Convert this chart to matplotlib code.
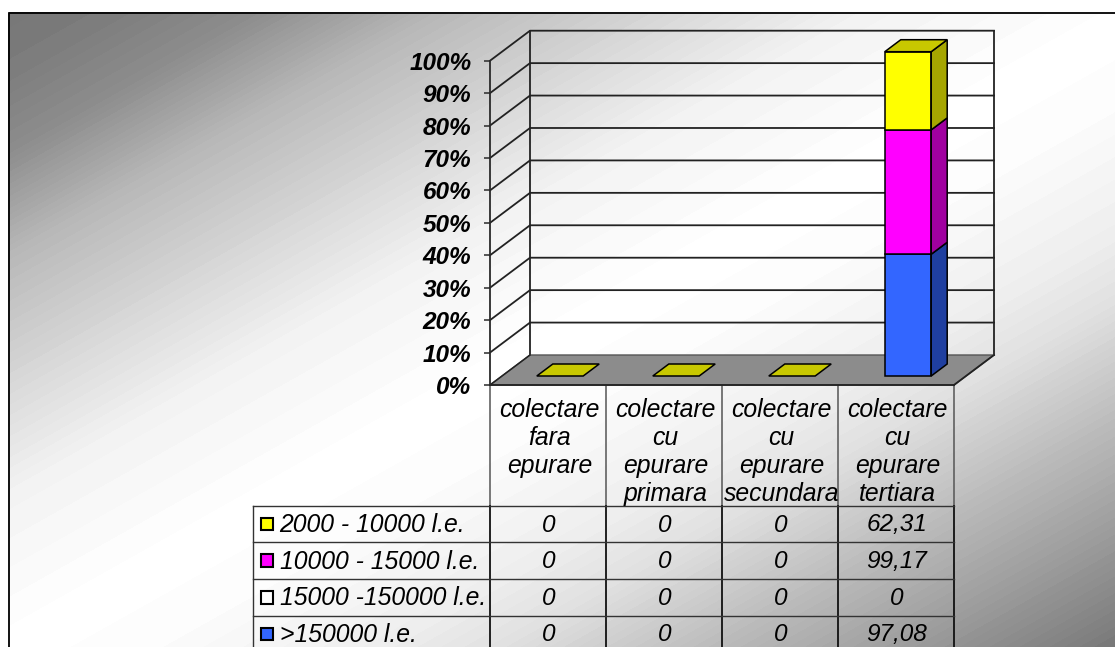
import numpy as np
import matplotlib
matplotlib.use("Agg")
import matplotlib.pyplot as plt
from matplotlib.patches import Polygon, Rectangle

plt.rcParams['font.family'] = ['Liberation Sans', 'DejaVu Sans']

categories = ["colectare\nfara\nepurare", "colectare\ncu\nepurare\nprimara",
              "colectare\ncu\nepurare\nsecundara", "colectare\ncu\nepurare\ntertiara"]
series_names = ["2000 - 10000 l.e.", "10000 - 15000 l.e.", "15000 -150000 l.e.", ">150000 l.e."]
series_values = {
    "2000 - 10000 l.e.": [0, 0, 0, 62.31],
    "10000 - 15000 l.e.": [0, 0, 0, 99.17],
    "15000 -150000 l.e.": [0, 0, 0, 0],
    ">150000 l.e.": [0, 0, 0, 97.08],
}
series_front = ["#ffff00", "#ff00ff", "#ffffff", "#3366ff"]
series_side = ["#a6a600", "#a000a0", "#a6a6a6", "#1f3fa0"]
series_top = ["#c8c800", "#c800c8", "#c8c8c8", "#2850c8"]
y_ticks = list(range(0, 101, 10))
grad_pos = [0, 0.05, 0.11, 0.193, 0.3, 0.384, 0.5, 0.565, 0.672, 0.724, 0.814, 0.893, 1]
grad_val = [0.47, 0.49, 0.55, 0.72, 0.85, 0.95, 1.0, 0.99, 0.93, 0.88, 0.74, 0.63, 0.47]

W, H = 1115, 647
fig = plt.figure(figsize=(W / 100, H / 100), dpi=100, facecolor="white")

# Pixel layer: background and table
bg = fig.add_axes([0, 0, 1, 1])
bg.set_xlim(0, W)
bg.set_ylim(H, 0)
bg.axis("off")

yy, xx = np.mgrid[0:H, 0:W]
nx, ny = 590.0, 1050.0
t = ((xx - 8) * nx + (yy - 12) * ny) / ((W - 8) * nx + (H - 12) * ny)
shade = np.interp(t, grad_pos, grad_val)
shade = np.round(shade * 100) / 100
bg.imshow(shade, cmap="gray", vmin=0, vmax=1, extent=(0, W, H, 0), aspect="auto",
          interpolation="bilinear", zorder=0)
bg.set_xlim(0, W)
bg.set_ylim(H, 0)
bg.add_patch(Rectangle((0, 0), W, 12, fc="white", ec="none", zorder=1))
bg.add_patch(Rectangle((0, 0), 8, H, fc="white", ec="none", zorder=1))
bg.plot([8.5, 8.5, W], [H, 12.5, 12.5], color="black", lw=1.3, zorder=2)

# Chart layer: front plane of the 3-D box
AX_L, AX_R, AX_B, AX_T = 490, 954, 385, 60.7
ax = fig.add_axes([AX_L / W, 1 - AX_B / H, (AX_R - AX_L) / W, (AX_B - AX_T) / H])
ax.patch.set_alpha(0)
ax.set_xlim(0, 4)
ax.set_ylim(0, 100)
for s in ["top", "right", "bottom"]:
    ax.spines[s].set_visible(False)
ax.spines["left"].set_color("#2a2a2a")
ax.spines["left"].set_linewidth(1.3)

DEPTH_X = 40 / 116
DEPTH_Y = 30 / ((AX_B - AX_T) / 100)


def proj(x, y, d):
    return x + d * DEPTH_X, y + d * DEPTH_Y


ax.add_patch(Polygon([proj(0, 0, 0), proj(4, 0, 0), proj(4, 0, 1), proj(0, 0, 1)],
                     fc="#8c8c8c", ec="#555555", lw=1, clip_on=False, zorder=1))
for v in y_ticks:
    a, b, c = proj(0, v, 0), proj(0, v, 1), proj(4, v, 1)
    if v > 0:
        ax.plot([a[0], b[0], c[0]], [a[1], b[1], c[1]], color="#222222", lw=1.3,
                clip_on=False, zorder=0.5)
    else:
        ax.plot([a[0], proj(4, 0, 0)[0]], [a[1], a[1]], color="#222222", lw=1.3, clip_on=False, zorder=2)
for x in (0, 4):
    a, b = proj(x, 0, 1), proj(x, 100, 1)
    ax.plot([a[0], b[0]], [a[1], b[1]], color="#222222", lw=1.3, clip_on=False, zorder=0.6)
a, b = proj(4, 0, 0), proj(4, 0, 1)
ax.plot([a[0], b[0]], [a[1], b[1]], color="#222222", lw=1.3, clip_on=False, zorder=2)
a, b = proj(0, 0, 0), proj(0, 0, 1)
ax.plot([a[0], b[0]], [a[1], b[1]], color="#222222", lw=1.1, clip_on=False, zorder=2)

# Stacked 100 % bars
GAP_WIDTH = 1 / 2.5
D0, D1 = 0.3, 0.7
arr = np.array([series_values[n] for n in series_names], dtype=float)
totals = arr.sum(axis=0)
for i in range(len(categories)):
    bottom = 0.0
    x0, x1 = i + 0.5 - GAP_WIDTH / 2, i + 0.5 + GAP_WIDTH / 2
    for j in range(len(series_names) - 1, -1, -1):
        val = arr[j, i]
        if val == 0:
            continue
        pct = val / totals[i] * 100
        top = bottom + pct
        ax.add_patch(Polygon([proj(x0, bottom, D0), proj(x1, bottom, D0), proj(x1, top, D0), proj(x0, top, D0)],
                             fc=series_front[j], ec="black", lw=1.1, clip_on=False, zorder=3))
        ax.add_patch(Polygon([proj(x1, bottom, D0), proj(x1, bottom, D1), proj(x1, top, D1), proj(x1, top, D0)],
                             fc=series_side[j], ec="black", lw=1.1, clip_on=False, zorder=3))
        bottom = top
    ax.add_patch(Polygon([proj(x0, bottom, D0), proj(x1, bottom, D0), proj(x1, bottom, D1), proj(x0, bottom, D1)],
                         fc=series_top[0], ec="black", lw=1.1, clip_on=False, zorder=3.1))

ax.set_yticks(y_ticks)
ax.set_yticklabels([f"{v}%" for v in y_ticks], fontsize=17.6, fontweight="bold", style="italic")
ax.tick_params(axis="y", length=4.3, width=1.1, color="#2a2a2a", pad=9.2)
ax.set_xticks([i + 0.5 + 0.012 for i in range(len(categories))])
ax.set_xticklabels(categories, fontsize=17.8, style="italic", linespacing=1.215, va="top")
ax.tick_params(axis="x", length=0, pad=9.5)

# Data table
ROW_TOP, ROW_H = 505.7, 36.6
LEG_L = 252.7
cols = np.linspace(AX_L, AX_R, len(categories) + 1)
for x in cols:
    bg.plot([x, x], [AX_B, ROW_TOP], color="#555555", lw=1.1, zorder=3)
    bg.plot([x, x], [ROW_TOP, H], color="#111111", lw=1.3, zorder=3)
bg.plot([LEG_L, LEG_L], [ROW_TOP, H], color="#333333", lw=1, zorder=3)
for r in range(len(series_names)):
    y = ROW_TOP + r * ROW_H
    bg.plot([LEG_L, AX_R], [y, y], color="#333333", lw=1, zorder=3)
    yc = y + ROW_H / 2
    bg.add_patch(Rectangle((260.5, yc - 6.3), 12.6, 12.6, fc=series_front[r], ec="black", lw=1.5, zorder=4))
    bg.text(279.5, yc + 1, series_names[r], fontsize=17.8, style="italic", ha="left", va="center", zorder=4)
    for c in range(len(categories)):
        bg.text((cols[c] + cols[c + 1]) / 2 + 1, yc + 1, f"{arr[r, c]:g}".replace(".", ","),
                fontsize=17.6, style="italic", ha="center", va="center", zorder=4)

fig.savefig("out.png", dpi=100)
